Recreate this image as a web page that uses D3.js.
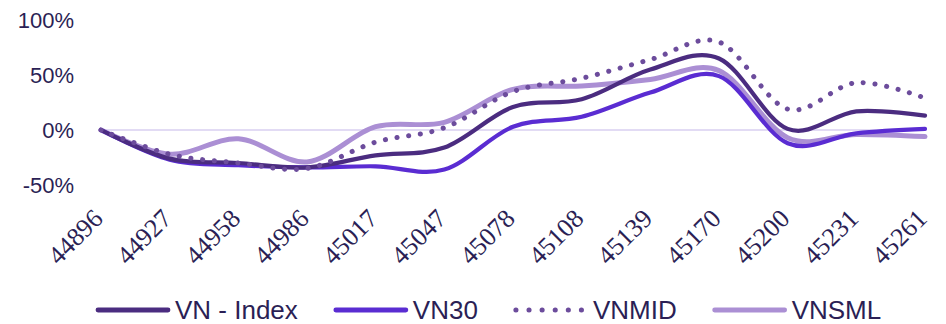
<!DOCTYPE html>
<html>
<head>
<meta charset="utf-8">
<script src="https://cdn.jsdelivr.net/npm/d3@7"></script>
<style>
  html, body { margin: 0; padding: 0; background: #fff; }
  svg { display: block; }
</style>
</head>
<body>
<svg id="chart" width="946" height="324"></svg>
<script>
// Month codes (serial dates) on the category axis
const categories = [44896, 44927, 44958, 44986, 45017, 45047, 45078, 45108, 45139, 45170, 45200, 45231, 45261];

// Cumulative change, in percent
const vnIndex = [0, -26, -30, -34, -23, -16, 21, 28, 55, 65, 1, 17, 13];
const vn30    = [0, -27, -32, -34, -33, -36, 3, 12, 34, 49, -12, -3, 1];
const vnMid   = [0, -22, -30, -35, -11, 2, 35, 47, 64, 80, 19, 43, 29];
const vnSml   = [0, -22, -8, -29, 3, 7, 37, 40, 46, 54, -7, -4, -6];

const seriesNames = ["VN - Index", "VN30", "VNMID", "VNSML"];
const yTicks = [-50, 0, 50, 100];

const series = [
  { name: seriesNames[0], values: vnIndex, color: "#4B2C80", width: 4.2, dash: null },
  { name: seriesNames[1], values: vn30,    color: "#5A2CD2", width: 4.2, dash: null },
  { name: seriesNames[2], values: vnMid,   color: "#6C4C9C", width: 5,   dash: "0.1 11.7" },
  { name: seriesNames[3], values: vnSml,   color: "#AB8FD4", width: 5,   dash: null }
];

const textColor = "#2B1F55";
const svg = d3.select("#chart");

const x = d3.scalePoint().domain(categories).range([101, 925]);
const y = d3.scaleLinear().domain([-50, 100]).range([185, 20]);

// Y axis labels
const yAxis = svg.append("g")
  .attr("transform", "translate(74,0)")
  .call(d3.axisLeft(y).tickValues(yTicks).tickSize(0).tickPadding(0).tickFormat(d => d + "%"));
yAxis.select(".domain").remove();
yAxis.selectAll("text")
  .attr("fill", textColor)
  .style("font-family", "'Liberation Sans', Arial, sans-serif")
  .style("font-size", "22px")
  .attr("dy", "0.36em");

// Zero reference line
svg.append("line")
  .attr("x1", x.range()[0]).attr("x2", x.range()[1])
  .attr("y1", y(0)).attr("y2", y(0))
  .attr("stroke", "#D8CFF0").attr("stroke-width", 1.5);

// X axis labels, rotated
const xAxis = svg.append("g")
  .attr("transform", "translate(0,220)")
  .call(d3.axisBottom(x).tickSize(0).tickPadding(0));
xAxis.select(".domain").remove();
xAxis.selectAll("text")
  .attr("fill", textColor)
  .attr("x", 0).attr("y", 0).attr("dy", 0)
  .attr("text-anchor", "end")
  .attr("transform", "translate(3,0) rotate(-45)")
  .style("font-family", "'Liberation Serif', 'Times New Roman', serif")
  .style("font-size", "26px");

// Smoothed series lines
const line = d3.line()
  .x((d, i) => x(categories[i]))
  .y(d => y(d))
  .curve(d3.curveCardinal.tension(0));

const drawOrder = [series[3], series[1], series[0], series[2]];
svg.append("g").selectAll("path")
  .data(drawOrder)
  .join("path")
  .attr("d", s => line(s.values))
  .attr("fill", "none")
  .attr("stroke", s => s.color)
  .attr("stroke-width", s => s.width)
  .attr("stroke-linecap", "round")
  .attr("stroke-linejoin", "round")
  .attr("stroke-dasharray", s => s.dash);

// Legend
const legend = svg.append("g").attr("class", "legend");
let lx = 98;
const ly = 310;
series.forEach(s => {
  const item = legend.append("g");
  item.append("line")
    .attr("x1", lx).attr("x2", lx + 70)
    .attr("y1", ly).attr("y2", ly)
    .attr("stroke", s.color)
    .attr("stroke-width", s.dash ? 5 : 4.8)
    .attr("stroke-linecap", "round")
    .attr("stroke-dasharray", s.dash ? "0.1 13" : null);
  const t = item.append("text")
    .attr("x", lx + 77).attr("y", ly + 8.5)
    .attr("fill", textColor)
    .style("font-family", "'Liberation Sans', Arial, sans-serif")
    .style("font-size", "26px")
    .text(s.name);
  lx += 77 + t.node().getComputedTextLength() + 38;
});
</script>
</body>
</html>
